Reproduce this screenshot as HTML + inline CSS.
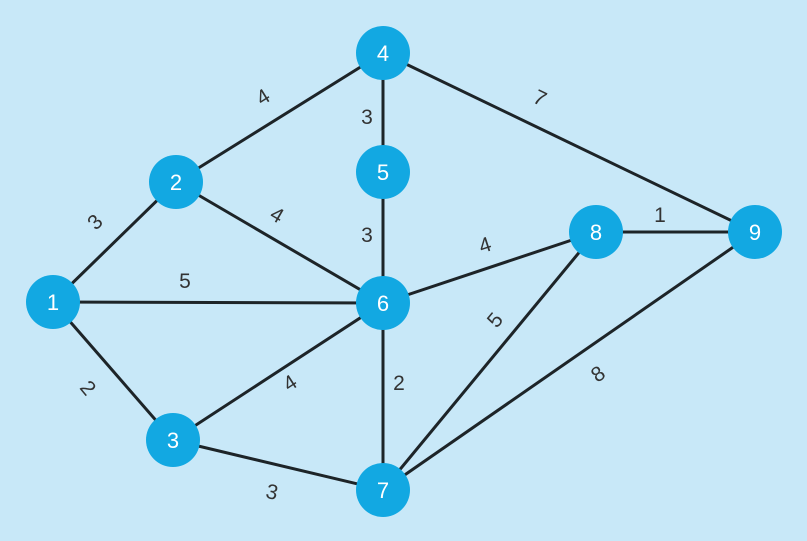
<!DOCTYPE html>
<html><head><style>
html,body{margin:0;padding:0;background:#c8e8f8;}
svg{display:block}
text{font-family:"Liberation Sans",sans-serif;}
</style></head><body>
<svg width="807" height="541" viewBox="0 0 807 541">
<rect width="807" height="541" fill="#c8e8f8"/>
<g stroke="#1d2428" stroke-width="3">
<line x1="53" y1="302" x2="176" y2="182"/>
<line x1="53" y1="302" x2="383" y2="303"/>
<line x1="53" y1="302" x2="173" y2="440"/>
<line x1="176" y1="182" x2="383" y2="53"/>
<line x1="176" y1="182" x2="383" y2="303"/>
<line x1="173" y1="440" x2="383" y2="303"/>
<line x1="173" y1="440" x2="383" y2="490"/>
<line x1="383" y1="53" x2="383" y2="490"/>
<line x1="383" y1="53" x2="755" y2="232"/>
<line x1="383" y1="303" x2="596" y2="232"/>
<line x1="383" y1="490" x2="596" y2="232"/>
<line x1="383" y1="490" x2="755" y2="232"/>
<line x1="596" y1="232" x2="755" y2="232"/>
</g>
<g fill="#12a8e2">
<circle cx="53" cy="302" r="27"/><circle cx="176" cy="182" r="27"/><circle cx="173" cy="440" r="27"/>
<circle cx="383" cy="53" r="27"/><circle cx="383" cy="172" r="27"/><circle cx="383" cy="303" r="27"/>
<circle cx="383" cy="490" r="27"/><circle cx="596" cy="232" r="27"/><circle cx="755" cy="232" r="27"/>
</g>
<g fill="#fff" font-size="22" text-anchor="middle">
<text x="53" y="310">1</text><text x="176" y="190">2</text><text x="173" y="448">3</text>
<text x="383" y="61">4</text><text x="383" y="180">5</text><text x="383" y="311">6</text>
<text x="383" y="498">7</text><text x="596" y="240">8</text><text x="755" y="240">9</text>
</g>
<g fill="#333" font-size="21" text-anchor="middle">
<text x="95" y="229" transform="rotate(-45 95 222)">3</text>
<text x="185" y="288">5</text>
<text x="88" y="395" transform="rotate(50 88 388)">2</text>
<text x="263" y="104" transform="rotate(-32 263 97)">4</text>
<text x="277" y="222" transform="rotate(30 277 215)">4</text>
<text x="290" y="390" transform="rotate(-33 290 383)">4</text>
<text x="272" y="499" transform="rotate(13 272 492)">3</text>
<text x="367" y="124">3</text>
<text x="367" y="242">3</text>
<text x="399" y="390">2</text>
<text x="540" y="105" transform="rotate(26 540 98)">7</text>
<text x="485" y="252" transform="rotate(-18 485 245)">4</text>
<text x="495" y="327" transform="rotate(-50 495 320)">5</text>
<text x="598" y="381" transform="rotate(-35 598 374)">8</text>
<text x="660" y="222">1</text>
</g>
</svg>
</body></html>
